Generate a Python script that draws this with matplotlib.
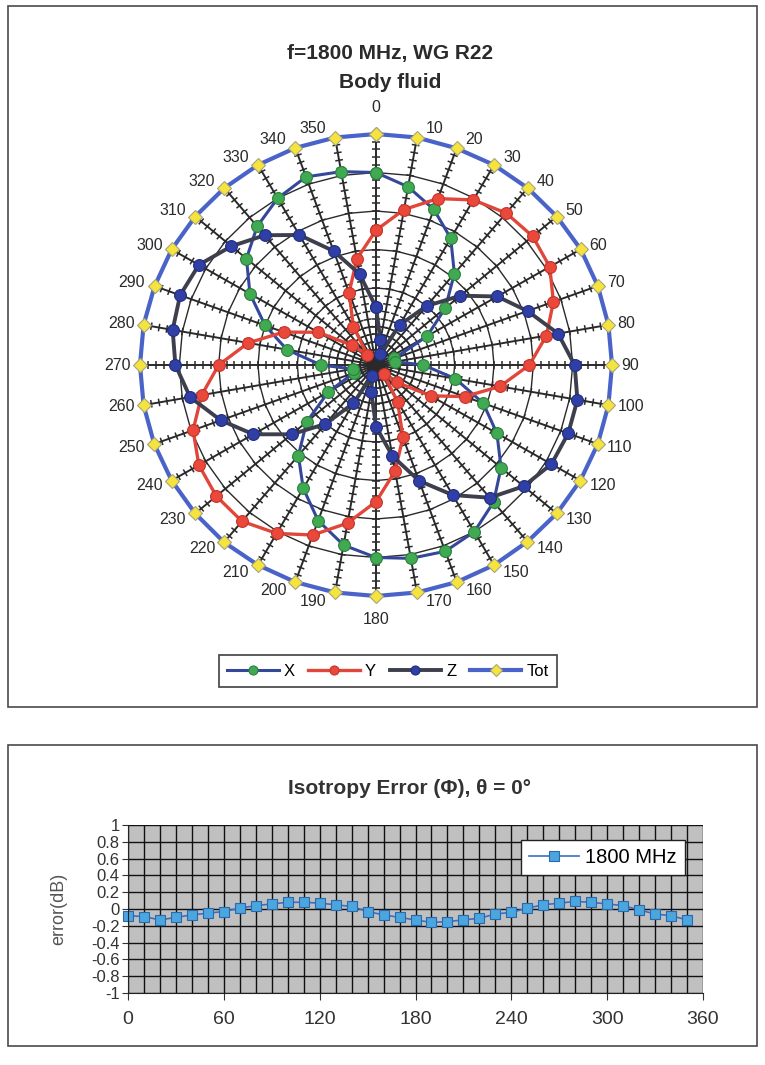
import numpy as np
import matplotlib
matplotlib.use("Agg")
import matplotlib.pyplot as plt
from matplotlib.collections import LineCollection
from matplotlib.patches import Rectangle

# ---------------- data ----------------
angles_deg = [0, 10, 20, 30, 40, 50, 60, 70, 80, 90, 100, 110,
              120, 130, 140, 150, 160, 170, 180, 190, 200, 210, 220, 230,
              240, 250, 260, 270, 280, 290, 300, 310, 320, 330, 340, 350]

x_vals = [5.0, 4.7, 4.3, 3.8, 3.1, 2.3, 1.5, 0.5, 0.5, 1.2, 2.05, 2.9,
          3.55, 4.15, 4.65, 5.0, 5.15, 5.1, 5.0, 4.75, 4.3, 3.7, 3.07, 2.3,
          1.4, 0.6, 0.6, 1.4, 2.3, 3.0, 3.7, 4.3, 4.7, 5.0, 5.2, 5.1]

y_vals = [3.5, 4.1, 4.6, 4.95, 5.15, 5.2, 5.1, 4.8, 4.4, 3.9, 3.2, 2.4,
          1.6, 0.7, 0.3, 1.1, 2.0, 2.8, 3.55, 4.17, 4.7, 5.05, 5.3, 5.3,
          5.2, 4.95, 4.5, 4.0, 3.3, 2.5, 1.7, 0.8, 0.35, 1.15, 2.0, 2.8]

z_vals = [1.5, 0.65, 0.3, 1.2, 2.0, 2.8, 3.56, 4.1, 4.7, 5.05, 5.2, 5.2,
          5.15, 4.9, 4.5, 3.9, 3.2, 2.4, 1.6, 0.7, 0.3, 1.15, 2.0, 2.8,
          3.6, 4.2, 4.8, 5.1, 5.25, 5.3, 5.2, 4.8, 4.4, 3.9, 3.15, 2.4]

tot_vals = [6.0, 6.0, 5.99, 6.0, 6.0, 6.0, 6.01, 6.0, 6.0, 6.0, 6.0, 6.0,
            6.0, 6.0, 5.99, 6.0, 6.0, 6.0, 6.0, 6.0, 6.0, 6.0, 6.01, 6.0,
            6.0, 6.0, 6.0, 6.0, 6.0, 5.99, 6.0, 6.0, 6.0, 6.0, 6.0, 6.0]

iso_phi = angles_deg
iso_err = [-0.08, -0.09, -0.13, -0.10, -0.07, -0.05, -0.03, 0.01, 0.04, 0.06, 0.08, 0.08,
           0.07, 0.05, 0.03, -0.03, -0.07, -0.10, -0.13, -0.16, -0.15, -0.13, -0.11, -0.06,
           -0.04, 0.01, 0.05, 0.07, 0.09, 0.08, 0.06, 0.04, -0.01, -0.06, -0.08, -0.13]

iso_yticks = [1, 0.8, 0.6, 0.4, 0.2, 0, -0.2, -0.4, -0.6, -0.8, -1]
iso_xticks = [0, 60, 120, 180, 240, 300, 360]

# ---------------- figure ----------------
W, H = 765, 1065
fig = plt.figure(figsize=(W / 100, H / 100), dpi=100)
fig.patch.set_facecolor("white")

FONT = ["Liberation Sans", "DejaVu Sans"]
PT = 72 / 100  # points per pixel at 100 dpi


def fx(px):
    return px / W


def fy(py):
    return 1 - py / H


# outer frames of the two charts
for (x0, y0, x1, y1) in [(8, 6, 757, 707), (8, 745, 757, 1046)]:
    fig.patches.append(Rectangle((fx(x0), fy(y1)), fx(x1 - x0), (y1 - y0) / H,
                                 transform=fig.transFigure, fill=False,
                                 ec="#4a4a4a", lw=1.2))

# ---------------- radar chart ----------------
cx, cy = 376, 365
Rx, Ry = 236, 231
rmax = 6.0
ax = fig.add_axes([fx(cx - Rx), fy(cy + Ry), 2 * Rx / W, 2 * Ry / H], projection="polar")
ax.set_aspect("auto")
ax.set_theta_zero_location("N")
ax.set_theta_direction(-1)
ax.set_ylim(0, rmax)
ax.grid(False)
ax.set_xticks([])
ax.set_yticks([])
ax.spines["polar"].set_visible(False)
ax.patch.set_alpha(0)

theta = np.deg2rad(angles_deg)
theta_c = np.append(theta, theta[0])

grid_col = "#2a2a2a"
# polygon rings
for k in range(1, 6):
    ax.plot(theta_c, np.full(theta_c.shape, float(k)), color=grid_col, lw=1.0, zorder=1)
# spokes
for t in theta:
    ax.plot([t, t], [0, rmax], color=grid_col, lw=1.4, zorder=1)

# hash marks along each spoke
px_per_unit = Ry / rmax
half = 3.8 / px_per_unit
segs = []
for t in theta:
    for r in np.arange(0.2, rmax - 0.05, 0.2):
        rr = np.hypot(r, half)
        dt = np.arctan2(half, r)
        segs.append([(t - dt, rr), (t + dt, rr)])
ax.add_collection(LineCollection(segs, colors=grid_col, linewidths=1.1, zorder=1))


def close(v):
    return np.append(v, v[0])


ax.plot(theta_c, close(x_vals), color="#34479a", lw=2.2, marker="o", ms=8.5,
        mfc="#3faa52", mec="#2c7f3c", mew=0.8, zorder=3, label="X")
ax.plot(theta_c, close(y_vals), color="#e0473a", lw=2.4, marker="o", ms=8.5,
        mfc="#e9483b", mec="#c53428", mew=0.8, zorder=4, label="Y")
ax.plot(theta_c, close(z_vals), color="#3d404c", lw=2.8, marker="o", ms=8.5,
        mfc="#2f3fa6", mec="#222d7c", mew=0.8, zorder=5, label="Z")
ax.plot(theta_c, close(tot_vals), color="#4a63c9", lw=3.0, marker="D", ms=7.5,
        mfc="#f5e43e", mec="#a8a47a", mew=0.8, zorder=6, label="Tot", clip_on=False)

# category labels beside the outer ring
for a, t in zip(angles_deg, theta):
    s, c = np.sin(t), np.cos(t)
    if a == 0:
        ha, dx, dy = "center", 0, 27
    elif a == 180:
        ha, dx, dy = "center", 0, -24
    elif s > 0:
        ha, dx, dy = "left", 9, 9 * c
    else:
        ha, dx, dy = "right", -9, 9 * c
    ax.annotate(str(a), xy=(t, rmax), xytext=(dx * PT, dy * PT), textcoords="offset points",
                ha=ha, va="center", fontsize=11.5, family=FONT, color="#2a2a2a",
                annotation_clip=False)

fig.text(fx(390), fy(53), "f=1800 MHz, WG R22", ha="center", va="center",
         fontsize=15, fontweight="bold", family=FONT, color="#2b2b2b")
fig.text(fx(390), fy(82), "Body fluid", ha="center", va="center",
         fontsize=15, fontweight="bold", family=FONT, color="#2b2b2b")

handles, labels = ax.get_legend_handles_labels()
leg = fig.legend(handles, labels, loc="center", bbox_to_anchor=(fx(388), fy(671)),
                 ncol=4, frameon=True, fancybox=False, edgecolor="#222222",
                 prop={"family": FONT, "size": 12}, handlelength=3.1,
                 columnspacing=0.8, handletextpad=0.3, borderpad=0.5)
leg.get_frame().set_linewidth(1.3)
for h in leg.legend_handles:
    h.set_markersize(6.5)

# ---------------- isotropy error chart ----------------
ax2 = fig.add_axes([fx(128), fy(993), (703 - 128) / W, (993 - 825) / H])
ax2.set_facecolor("#c0c0c0")
ax2.set_xlim(0, 360)
ax2.set_ylim(-1, 1)
ax2.set_xticks(np.arange(0, 361, 10), minor=True)
ax2.set_xticks(iso_xticks)
ax2.set_yticks(iso_yticks)
ax2.set_yticklabels([f"{v:g}" for v in iso_yticks])
ax2.grid(True, which="both", color="#111111", lw=1.0)
ax2.set_axisbelow(True)
for s in ["top", "right"]:
    ax2.spines[s].set_visible(False)
ax2.spines["left"].set_color("#222222")
ax2.spines["bottom"].set_color("#222222")
ax2.tick_params(axis="x", which="major", length=5, labelsize=14, colors="#333333",
                pad=8)
ax2.tick_params(axis="x", which="minor", length=0)
ax2.tick_params(axis="y", length=4, labelsize=12, colors="#333333", pad=2)
for lab in ax2.get_xticklabels() + ax2.get_yticklabels():
    lab.set_family(FONT)
ax2.set_ylabel("error(dB)", family=FONT, fontsize=13, color="#555555", labelpad=17)

ax2.plot(iso_phi, iso_err, color="#3a6fc6", lw=1.2, marker="s", ms=7.5,
         mfc="#4aa6dc", mec="#2a68b0", mew=0.8, label="1800 MHz", clip_on=False)
lg2 = ax2.legend(loc="upper right", bbox_to_anchor=(0.969, 0.91), borderaxespad=0,
                 frameon=True, fancybox=False, edgecolor="#222222", framealpha=1,
                 prop={"family": FONT, "size": 14.5}, handlelength=2.5,
                 handletextpad=0.3, borderpad=0.4)
lg2.get_frame().set_linewidth(1.0)

fig.text(fx(410), fy(788), "Isotropy Error (\u03a6), \u03b8 = 0\u00b0", ha="center", va="center",
         fontsize=15, fontweight="bold", family=FONT, color="#333333")

fig.savefig("out.png", dpi=100)
